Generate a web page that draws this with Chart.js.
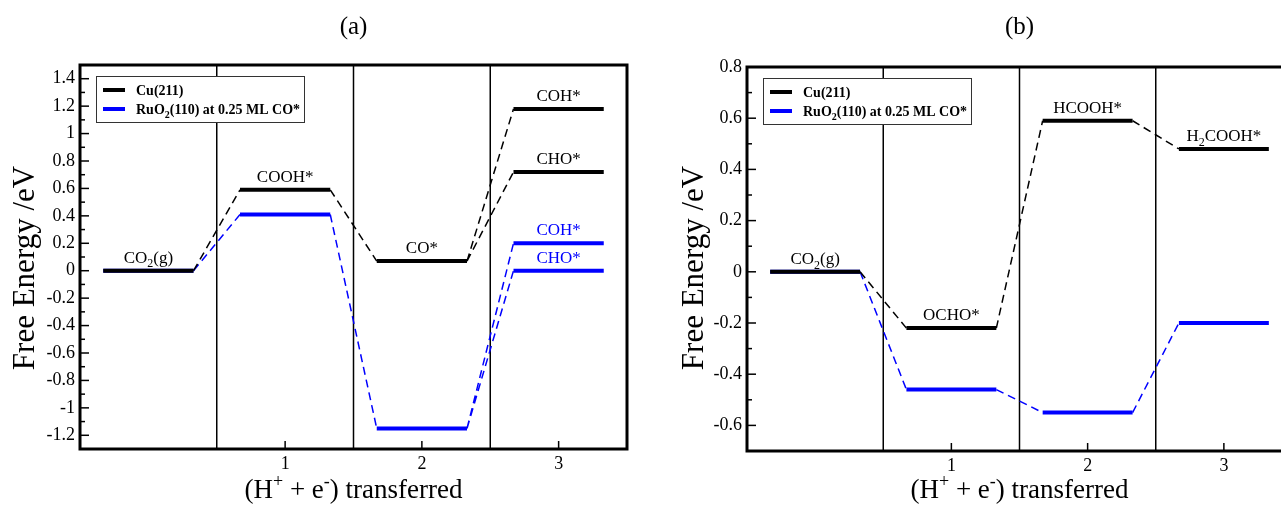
<!DOCTYPE html>
<html>
<head>
<meta charset="utf-8">
<script src="https://cdn.jsdelivr.net/npm/chart.js@4.4.0/dist/chart.umd.min.js"></script>
<style>
html, body { margin: 0; padding: 0; background: #fff; overflow: hidden; width: 1281px; height: 505px; }
#chartA { position: absolute; left: 0; top: 0; }
#chartB { position: absolute; left: 640px; top: 0; }
</style>
</head>
<body>
<canvas id="chartA" width="640" height="505"></canvas>
<canvas id="chartB" width="680" height="505"></canvas>
<script>
// panel (a): CO2 -> CO route
const stepsA = [0, 1, 2, 3, 3];
const cuA = [0, 0.59, 0.07, 1.18, 0.72];
const ruA = [0, 0.41, -1.15, 0.20, 0.00];
const cuNamesA = ['CO_2(g)', 'COOH*', 'CO*', 'COH*', 'CHO*'];
const ruNamesA = ['', '', '', 'COH*', 'CHO*'];
const linksA = [[0, 1], [1, 2], [2, 3], [2, 4]];

// panel (b): formate route
const stepsB = [0, 1, 2, 3];
const cuB = [0, -0.22, 0.59, 0.48];
const ruB = [0, -0.46, -0.55, -0.20];
const cuNamesB = ['CO_2(g)', 'OCHO*', 'HCOOH*', 'H_2COOH*'];
const ruNamesB = ['', '', '', ''];
const linksB = [[0, 1], [1, 2], [2, 3]];

const xTicks = [1, 2, 3];
const dividers = [0.5, 1.5, 2.5];
const seriesNames = ['Cu(211)', 'RuO_2(110) at 0.25 ML CO*'];
const seriesColors = ['#000000', '#0000ff'];
const panelTitles = ['(a)', '(b)'];
const xTitle = '(H^+ + e^-) transferred';
const yTitle = 'Free Energy /eV';

const FONT = '"Liberation Serif", "Times New Roman", serif';
const HALF = 0.33;

// '_x' = subscript char, '^x' = superscript char
function parseRich(str) {
    const segs = [];
    let buf = '';
    for (let i = 0; i < str.length; i++) {
        const c = str[i];
        if ((c === '_' || c === '^') && i + 1 < str.length) {
            if (buf) segs.push({ t: buf, k: 0 });
            buf = '';
            segs.push({ t: str[i + 1], k: c === '_' ? 1 : -1 });
            i++;
        } else {
            buf += c;
        }
    }
    if (buf) segs.push({ t: buf, k: 0 });
    return segs;
}

function drawRich(ctx, str, x, y, size, opts) {
    opts = opts || {};
    const weight = opts.bold ? 'bold ' : '';
    const small = Math.round(size * 0.68);
    const segs = parseRich(str);
    let w = 0;
    segs.forEach(s => {
        ctx.font = weight + (s.k ? small : size) + 'px ' + FONT;
        s.w = ctx.measureText(s.t).width;
        w += s.w;
    });
    let cx = opts.align === 'left' ? x : x - w / 2;
    ctx.fillStyle = opts.color || '#000';
    ctx.textAlign = 'left';
    ctx.textBaseline = 'alphabetic';
    segs.forEach(s => {
        ctx.font = weight + (s.k ? small : size) + 'px ' + FONT;
        const dy = s.k === 1 ? size * 0.28 : (s.k === -1 ? -size * 0.42 : 0);
        ctx.fillText(s.t, cx, y + dy);
        cx += s.w;
    });
}

function makeChart(id, cfg) {
    const levelData = vals => cfg.steps.flatMap((s, i) => [
        { x: s - HALF, y: vals[i] }, { x: s + HALF, y: vals[i] }, { x: s + HALF, y: null }
    ]);
    const linkData = vals => cfg.links.flatMap(([i, j]) => [
        { x: cfg.steps[i] + HALF, y: vals[i] }, { x: cfg.steps[j] - HALF, y: vals[j] }, { x: cfg.steps[j] - HALF, y: null }
    ]);
    const line = (data, color, dashed, order) => ({
        data: data,
        borderColor: color,
        borderWidth: dashed ? 1.5 : 4,
        borderDash: dashed ? [8, 5] : [],
        borderCapStyle: 'butt',
        pointRadius: 0,
        fill: false,
        tension: 0,
        order: order
    });

    const decor = {
        id: 'decor',
        beforeDatasetsDraw(chart) {
            const { ctx, chartArea: a, scales: { x } } = chart;
            ctx.save();
            ctx.strokeStyle = '#000';
            ctx.lineWidth = 1.5;
            dividers.forEach(v => {
                const px = x.getPixelForValue(v);
                ctx.beginPath();
                ctx.moveTo(px, a.top);
                ctx.lineTo(px, a.bottom);
                ctx.stroke();
            });
            ctx.restore();
        },
        afterDatasetsDraw(chart) {
            const { ctx, scales: { x, y } } = chart;
            ctx.save();
            cfg.steps.forEach((s, i) => {
                const px = x.getPixelForValue(s);
                if (cfg.cuNames[i]) drawRich(ctx, cfg.cuNames[i], px, y.getPixelForValue(cfg.cu[i]) - 8, 17, { color: seriesColors[0] });
                if (cfg.ruNames[i]) drawRich(ctx, cfg.ruNames[i], px, y.getPixelForValue(cfg.ru[i]) - 8, 17, { color: seriesColors[1] });
            });
            ctx.restore();
        },
        afterDraw(chart) {
            const { ctx, chartArea: a, scales: { x, y } } = chart;
            ctx.save();
            // inward tick marks
            ctx.strokeStyle = '#000';
            ctx.lineWidth = 1.5;
            y.ticks.forEach(t => {
                const py = y.getPixelForValue(t.value);
                const major = Math.round(t.value * 10) % 2 === 0;
                ctx.beginPath();
                ctx.moveTo(a.left, py);
                ctx.lineTo(a.left + (major ? 9 : 5), py);
                ctx.stroke();
            });
            x.ticks.forEach(t => {
                const px = x.getPixelForValue(t.value);
                ctx.beginPath();
                ctx.moveTo(px, a.bottom);
                ctx.lineTo(px, a.bottom - 8);
                ctx.stroke();
            });
            // frame
            ctx.lineWidth = 3;
            ctx.strokeRect(a.left, a.top, a.right - a.left, a.bottom - a.top);

            // legend
            const lx = a.left + 16, ly = a.top + 11;
            ctx.fillStyle = '#fff';
            ctx.fillRect(lx, ly, 208, 46);
            ctx.lineWidth = 1;
            ctx.strokeStyle = '#333';
            ctx.strokeRect(lx + 0.5, ly + 0.5, 208, 46);
            seriesNames.forEach((n, i) => {
                const ry = ly + 14 + i * 19;
                ctx.strokeStyle = seriesColors[i];
                ctx.lineWidth = 4;
                ctx.beginPath();
                ctx.moveTo(lx + 7, ry);
                ctx.lineTo(lx + 29, ry);
                ctx.stroke();
                drawRich(ctx, n, lx + 40, ry + 5, 14, { bold: true, align: 'left' });
            });

            // titles
            const cx = (a.left + a.right) / 2;
            ctx.fillStyle = '#000';
            ctx.font = '25px ' + FONT;
            ctx.textAlign = 'center';
            ctx.textBaseline = 'alphabetic';
            ctx.fillText(cfg.title, cx, 34);
            drawRich(ctx, xTitle, cx, 498, 27);
            ctx.translate(cfg.yTitleX, 268);
            ctx.rotate(-Math.PI / 2);
            ctx.font = '31px ' + FONT;
            ctx.textAlign = 'center';
            ctx.fillText(yTitle, 0, 0);
            ctx.restore();
        }
    };

    return new Chart(document.getElementById(id), {
        type: 'line',
        data: {
            datasets: [
                line(levelData(cfg.cu), seriesColors[0], false, 0),
                line(linkData(cfg.cu), seriesColors[0], true, 0),
                line(levelData(cfg.ru), seriesColors[1], false, 1),
                line(linkData(cfg.ru), seriesColors[1], true, 1)
            ]
        },
        options: {
            responsive: false,
            animation: false,
            events: [],
            layout: { padding: { left: 0, right: cfg.padRight, top: cfg.top, bottom: 0 } },
            plugins: { legend: { display: false }, tooltip: { enabled: false } },
            scales: {
                x: {
                    type: 'linear',
                    min: -0.5,
                    max: 3.5,
                    afterBuildTicks: s => { s.ticks = xTicks.map(v => ({ value: v })); },
                    afterFit: s => { s.height = cfg.xAxisH; },
                    grid: { display: false, drawTicks: false },
                    border: { display: false },
                    ticks: { color: '#000', padding: 4, font: { family: FONT, size: 18 } }
                },
                y: {
                    type: 'linear',
                    min: cfg.yMin,
                    max: cfg.yMax,
                    afterFit: s => { s.width = cfg.left; },
                    grid: { display: false, drawTicks: false },
                    border: { display: false },
                    ticks: {
                        stepSize: 0.1,
                        autoSkip: false,
                        color: '#000',
                        padding: 5,
                        font: { family: FONT, size: 18 },
                        callback: v => {
                            const r = Math.round(v * 10);
                            return r % 2 === 0 ? String(r / 10) : '';
                        }
                    }
                }
            }
        },
        plugins: [decor]
    });
}

makeChart('chartA', {
    steps: stepsA, cu: cuA, ru: ruA, cuNames: cuNamesA, ruNames: ruNamesA, links: linksA,
    yMin: -1.3, yMax: 1.5, title: panelTitles[0],
    left: 80, padRight: 13, top: 65, xAxisH: 56, yTitleX: 34
});
makeChart('chartB', {
    steps: stepsB, cu: cuB, ru: ruB, cuNames: cuNamesB, ruNames: ruNamesB, links: linksB,
    yMin: -0.7, yMax: 0.8, title: panelTitles[1],
    left: 107, padRight: 28, top: 67, xAxisH: 54, yTitleX: 63
});
</script>
</body>
</html>
